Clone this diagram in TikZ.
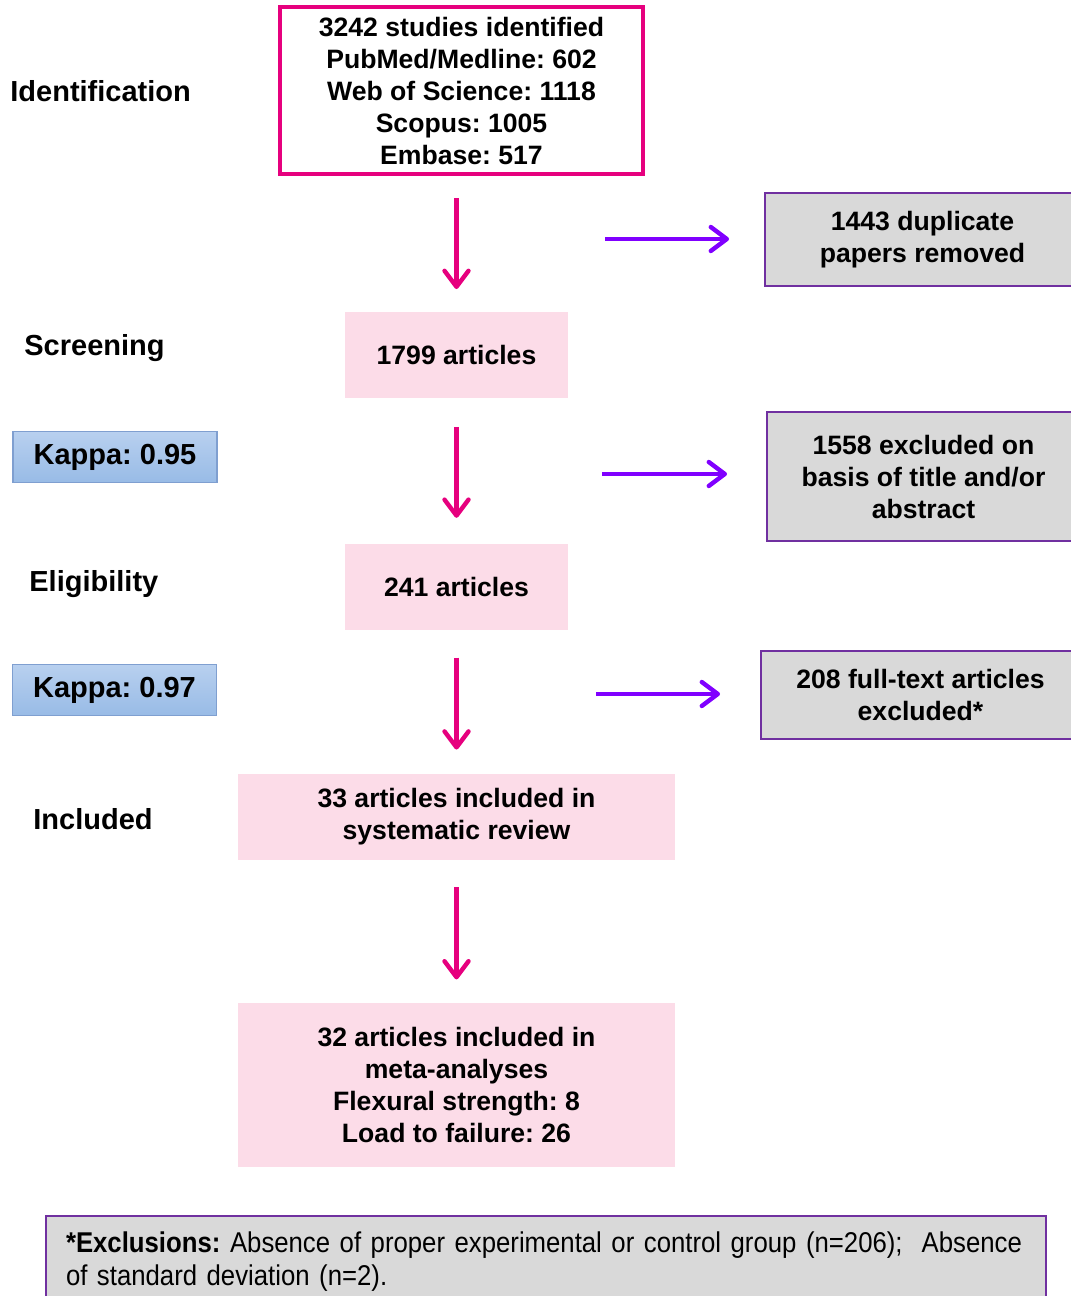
\documentclass[tikz,border=0pt]{standalone}
\usepackage{fontspec}
\setmainfont{Liberation Sans}
\newfontfamily\narrowfont[FakeStretch=0.9]{Liberation Sans}
\usetikzlibrary{positioning,arrows.meta}
\frenchspacing
\definecolor{flowpink}{HTML}{E6007E}
\definecolor{boxpink}{HTML}{FCDCE8}
\definecolor{flowviolet}{HTML}{8000FF}
\definecolor{boxgrey}{HTML}{D9D9D9}
\definecolor{boxedge}{HTML}{7030A0}
\definecolor{kappatop}{HTML}{B8D0EF}
\definecolor{kappabot}{HTML}{98BBE6}
\definecolor{kappaedge}{HTML}{7F9FD0}

\tikzset{
  mainfont/.style={font=\fontsize{13.3pt}{16pt}\selectfont\bfseries},
  pinkbox/.style={mainfont, fill=boxpink, align=center, inner sep=0pt},
  greybox/.style={mainfont, fill=boxgrey, draw=boxedge, line width=1pt, align=center, inner sep=0pt},
  stagelabel/.style={font=\fontsize{14.5pt}{17pt}\selectfont\bfseries, anchor=west, inner sep=0pt},
  kappabox/.style={font=\fontsize{14.5pt}{17pt}\selectfont\bfseries, top color=kappatop, bottom color=kappabot,
    draw=kappaedge, line width=0.8pt, minimum width=102pt, minimum height=25.5pt, inner sep=0pt},
  downarrow/.style={draw=flowpink, line width=2.2pt, -{Straight Barb[length=8pt,width=12pt,round]}},
  sidearrow/.style={draw=flowviolet, line width=2.2pt, -{Straight Barb[length=8pt,width=12pt,round]}}
}

\begin{document}
\begin{tikzpicture}[x=0.5pt,y=-0.5pt]
\useasboundingbox (0,0) rectangle (1071,1296);

% stage labels
\node[stagelabel] (lident) at (10,91) {Identification};
\node[stagelabel] (lscreen) at (24,348) {Screening};
\node[stagelabel] (lelig) at (29,584) {Eligibility};
\node[stagelabel] (lincl) at (33,819) {Included};
\node[kappabox] (kappaA) at (115,457) {Kappa: 0.95};
\node[kappabox] (kappaB) at (114.5,690) {Kappa: 0.97};

% main column
\node[draw=flowpink, line width=2pt, mainfont, align=center, inner sep=0pt,
      minimum width=181.5pt, minimum height=83.5pt] (ident) at (461.5,90.5)
      {3242 studies identified\\PubMed/Medline: 602\\Web of Science: 1118\\Scopus: 1005\\Embase: 517};
\node[pinkbox, minimum width=111.5pt, minimum height=43pt, below=68pt of ident, xshift=-2.5pt] (screen) {1799 articles};
\node[pinkbox, minimum width=111.5pt, minimum height=43pt, below=72.5pt of screen] (elig) {241 articles};
\node[pinkbox, minimum width=218.5pt, minimum height=43pt, below=71.5pt of elig] (incl) {33 articles included in\\systematic review};
\node[pinkbox, minimum width=218.5pt, minimum height=82pt, below=71pt of incl] (meta)
      {32 articles included in\\meta-analyses\\Flexural strength: 8\\Load to failure: 26};

% excluded boxes
\node[greybox, minimum width=157.5pt, minimum height=46.5pt] (dup) at (922.5,239.5) {1443 duplicate\\papers removed};
\node[greybox, minimum width=156.5pt, minimum height=64.5pt] (excl) at (923.5,476.5) {1558 excluded on\\basis of title and/or\\abstract};
\node[greybox, minimum width=159.5pt, minimum height=44pt] (full) at (920.5,695) {208 full-text articles\\excluded*};

% arrows
\draw[downarrow, shorten <=11pt, shorten >=11.5pt] (ident.south -| screen.north) -- (screen.north);
\draw[downarrow, shorten <=14pt, shorten >=13pt] (screen) -- (elig);
\draw[downarrow, shorten <=13.5pt, shorten >=12pt] (elig) -- (incl);
\draw[downarrow, shorten <=13.5pt, shorten >=11.5pt] (incl) -- (meta);

\coordinate (dupfrom) at (605,239);
\coordinate (exclfrom) at (602,474);
\coordinate (fullfrom) at (596,694);
\draw[sidearrow, shorten >=17.5pt] (dupfrom) -- (dup.west |- dupfrom);
\draw[sidearrow, shorten >=19.5pt] (exclfrom) -- (excl.west |- exclfrom);
\draw[sidearrow, shorten >=20pt] (fullfrom) -- (full.west |- fullfrom);

% footnote
\node[greybox, anchor=north west, align=left, inner xsep=10pt, inner ysep=0pt, text width=480pt,
      minimum height=46pt, font=\narrowfont\fontsize{14.3pt}{16.5pt}\selectfont] (note) at (45,1215)
      {{\bfseries *Exclusions:} Absence of proper experimental or control group (n=206);~ Absence\\
       of standard deviation (n=2).};
\end{tikzpicture}
\end{document}
